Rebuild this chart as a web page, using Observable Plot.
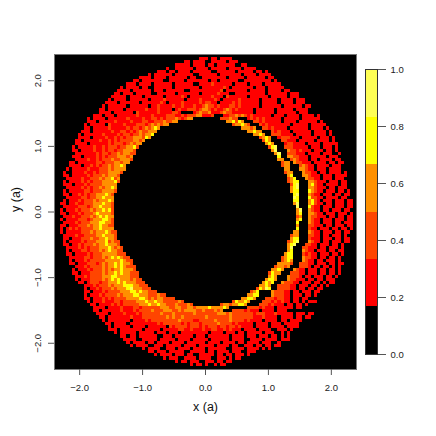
<!DOCTYPE html>
<html><head><meta charset="utf-8">
<script src="https://cdn.jsdelivr.net/npm/d3@7"></script>
<script src="https://cdn.jsdelivr.net/npm/@observablehq/plot@0.6"></script>
<style>html,body{margin:0;padding:0;background:#fff}#c{position:relative;width:436px;height:436px}#c svg{position:absolute;left:0;top:0;background:transparent}</style>
</head><body><div id="c"></div>
<script>
const levelColors = ["#000000","#FF0000","#FF4500","#FF9000","#FFFF00","#FFFF55"];
const levelBreaks = [0,0.1667,0.3333,0.5,0.6667,0.8333,1];
const xTicks = [-2,-1,0,1,2];
const yTicks = [-2,-1,0,1,2];
const barTicks = [0,0.2,0.4,0.6,0.8,1];
// ring outline read per grid row (grid columns, rows from the top)
const outerLeft = [0,47,43,40,37,34,31,28,26,24,22,21,20,19,18,17,16,15,15,13,11,11,10,10,9,8,8,7,7,6,6,6,6,6,5,5,4,3,3,3,3,3,3,3,3,3,3,2,2,2,2,2,2,2,2,2,2,2,3,3,3,3,4,4,4,5,5,6,6,6,6,7,8,9,10,10,10,10,11,12,13,13,14,15,16,17,18,18,20,22,23,24,25,29,31,33,36,40,45,0];
const outerRight = [0,58,60,63,66,70,71,72,73,75,76,77,80,81,82,83,84,84,85,87,88,88,89,90,91,91,92,92,93,93,93,94,94,94,95,95,95,96,96,96,96,97,97,97,97,97,98,98,98,98,98,98,98,98,98,98,98,97,97,97,96,96,96,96,95,95,95,94,94,94,94,93,93,92,92,91,90,89,88,87,86,86,85,85,83,82,80,79,78,77,77,75,74,71,67,64,61,58,56,0];
const holeFirstRow = 20;
const innerLeft = [46,41,38,35,34,33,32,30,29,28,27,27,26,26,25,24,24,23,22,22,22,21,21,21,20,20,20,20,20,20,20,20,20,20,20,20,21,21,21,22,22,23,23,24,25,26,26,27,27,28,28,29,30,31,32,34,37,40,43,46];
const innerRight = [55,57,59,62,64,66,68,69,70,71,72,73,74,74,75,75,76,76,77,77,77,78,78,78,79,79,79,79,80,80,80,80,80,80,80,80,79,78,78,77,77,77,77,76,75,75,74,73,72,71,71,70,69,68,67,65,64,62,59,55];
// colour classes per row: "left of the hole|right of the hole", or one run where there is no hole
const rows = [
"",
"011101101111",
"1101111001111101111",
"11111011110110111111001111",
"1001111110111101111101111011110111",
"11101101111011111100111111011111011011",
"1011111101111110011111101111111011110111101",
"1111011110111111011001111111101111101111110111011",
"1101111111001111101111111011011111100111111111011111",
"111011110111111011111100111121111110111101111011111011",
"10111101100111111011111111011111112101111111011101111101",
"1111011111101110111111001111111111201111111011111011110111",
"11011101111100111111011111110111112111001111111111011111101111",
"1111101111011111101111121011111112111021111110111111011111011101",
"101111011111101111211111101111211112101111121111110111110111101111",
"11110111111011111121011112111112122110111121211111101111101111011101",
"1011111101111110112111121121112112322121112212111111011111101111110111",
"110111110111111211121111012112221233212112321211111011111101111101111011",
"111101111110211111121111221000012322311123221111111011111101111110111",
"1110111011111121111211112221121222331112000112232321211111101110111101111011",
"10111101111112111121122121222321233|222322000121212111110111110111111011101111",
"111011111211112111221122232233|334243000221211111011110111111011111",
"1011111021111211122212323233|233432000212111111101111101111111011",
"1101111121111121221232343|3332300221211110111111011110111011",
"1110111111211221212322333|33433000212111011111101111011111",
"1011111121111212212232334|334300222111101111101111011110111",
"111101111211212122333243|23430012221110111110111011110111",
"11011111211212122223323|24300022111011111011110111011101",
"1111011111121222123233|3430001221111011110111110110111",
"1011111211212221223342|24500222111110111011101111011",
"110111121121221223332|350003221211101110110111110111",
"1011111112122122323322|35002221110111101110011111011",
"11101111212122233323|4003322111011111011101110111",
"01111211212223223332|33002321110110111101110111011",
"11011111122122233233|233032211101111011011101111011",
"1111011212122323343|23300023211011110111011101101",
"10111112111222323333|33000332110111011110110111011",
"10011112112122233332|233000322110110111101110110111",
"1101111121222323332|340003321110111011110110110",
"0111112112223233423|2340003221101110111001110101",
"1011112121222333342|23440003321110111011011110110",
"111011121222233333|2450003421101111011011101011",
"011111212122323343|3450003321110110111010110111",
"101111122122233332|3440004321101110110111011011",
"11011212122333432|4500032110111011011101110110",
"01111122122334333|5400042211011110110110111011",
"10111212223233343|4400034210111011101101101011",
"110112112223334332|35000342110110111011010111",
"011111222123343332|500042110111011101101011",
"101112122232334342|350032110110111011011010",
"110111212223433332|340033211011101110101101",
"011121122232343433|230032211101101101110101",
"101111222123334432|3400321101110111011010",
"011112122233344332|400032110111011011101011",
"110111222323343322|300022111011011101101101",
"101212122223343333|400021101110110110111011",
"1011111222323334322|3300032110111011011010",
"0111121122223343332|23300022110110111010111",
"110111222322334332|34400021110111011011011",
"1011112122233342322|234500032110110111011011",
"1101121222323343332|34500022110111011010111",
"01111212122233343232|3500022111011011101011",
"1011122122232343322|34000321101110110110101",
"11011112122233333222|34400021211011101101011",
"011111221222323434322|234400032211011011010",
"101112122222333334322|2343000321101101110101",
"110111222123233434332|33332002221101110110110",
"011121222232334343222|233230002221011011010111",
"101112122232323343332|3343000321101110110110101",
"1101112222323343433222|2433000222110111011011011",
"0111212222333443333222|343000322210110111011010",
"1011122223234343332322|34430003221110110110111",
"1101222122333434333222|343400322211011101101011",
"0111212223233344433222|33430022221101110110101",
"1011212223233345333222|2435400222211011011011",
"110111212222333443433222|23400003222110110111011",
"101112122223233344333222322|33440000322211011101101",
"110111212122223333443232332222|33443000222122110110110",
"10111211122122223334334332222232|2433430000222121211011010111",
"1101111212122222333433433222322232|23323344300002221211101101101",
"111101111211122122222233322332233233334333343000000222212111011111011",
"1101111112111212222322233322323333223222323000222212111011110111",
"1111011112111212222223222322222232222222333232222222122211121111101110110",
"1101111111211122222222323223222222232222222322222221112111101111011011",
"101111111011112122222222232222112222232222322221211110111101101111",
"1101111011111111121222222121222122222322221211111011110111011111",
"101111101111011111102122221222121222122122121111011110111101111",
"1110111111101111101111122112111211221121211101111011110011101",
"1011111011111011101110111111111011110111011011111011100101",
"11011011111100111011111101110111111101111011101110110101",
"1111001111101111101111011111011111101111001111011110111",
"101111011011110111101111110111101111011011110111001",
"10111100111011111011110111110111101100111011011011",
"1011110011101111011110111111001111011110101",
"110111011111001111101101111011100111",
"10111101110110011111011011011101",
"10111001111011110011101011",
"1011011100111011011",
"101101001011",
""
];
const cellSize = 0.048, xMin = -2.4, yMax = 2.4;
const cells = [];
rows.forEach((row, r) => {
  const put = (col, d) => {
    if (d > 0) cells.push({
      x1: xMin + col * cellSize, x2: xMin + (col + 1) * cellSize,
      y1: yMax - r * cellSize, y2: yMax - (r + 1) * cellSize, level: d
    });
  };
  if (row.includes("|")) {
    const [left, right] = row.split("|");
    const il = innerLeft[r - holeFirstRow], ir = innerRight[r - holeFirstRow];
    [...left].reverse().forEach((d, i) => { if (il - 1 - i >= outerLeft[r]) put(il - 1 - i, +d); });
    [...right].forEach((d, i) => { if (ir + i <= outerRight[r]) put(ir + i, +d); });
  } else {
    [...row].forEach((d, i) => { if (outerLeft[r] + i <= outerRight[r]) put(outerLeft[r] + i, +d); });
  }
});
const color = {type: "ordinal", domain: d3.range(levelColors.length), range: levelColors};
const font = "'Liberation Sans', Arial, sans-serif";
const main = Plot.plot({
  width: 436, height: 436, marginLeft: 54, marginRight: 80, marginTop: 54, marginBottom: 67,
  style: {fontFamily: font, background: "transparent", color: "#222"},
  x: {domain: [-2.4, 2.4]}, y: {domain: [-2.4, 2.4]}, color,
  marks: [
    Plot.frame({fill: "black"}),
    Plot.rect(cells, {x1: "x1", x2: "x2", y1: "y1", y2: "y2", fill: "level", shapeRendering: "crispEdges"}),
    Plot.frame({stroke: "#777"}),
    Plot.axisX({ticks: xTicks, tickFormat: d3.format(".1f"), tickSize: 6, tickPadding: 9, fontSize: 9.5, label: null, stroke: "#555"}),
    Plot.axisY({ticks: yTicks, tickFormat: d3.format(".1f"), tickSize: 6, tickPadding: 8, fontSize: 9.5, label: null, tickRotate: -90, stroke: "#555"}),
    Plot.text(["x (a)"], {frameAnchor: "bottom", dy: 41, fontSize: 12.5, fill: "#111"}),
    Plot.text(["y (a)"], {frameAnchor: "left", dx: -39, rotate: -90, fontSize: 12.5, fill: "#111"})
  ]
});
const bands = levelColors.map((c, i) => ({level: i, y1: levelBreaks[i], y2: levelBreaks[i + 1]}));
const bar = Plot.plot({
  width: 436, height: 436, marginLeft: 365, marginRight: 59, marginTop: 69, marginBottom: 82,
  style: {fontFamily: font, background: "transparent", color: "#222"},
  x: {domain: [0, 1], axis: null}, y: {domain: [0, 1], axis: null}, color,
  marks: [
    Plot.rect(bands, {x1: 0, x2: 1, y1: "y1", y2: "y2", fill: "level", shapeRendering: "crispEdges"}),
    Plot.frame({stroke: "#333"}),
    Plot.axisY({anchor: "right", ticks: barTicks, tickFormat: d3.format(".1f"), tickSize: 8, tickPadding: 5, fontSize: 9.5, label: null, stroke: "#555"})
  ]
});
document.getElementById("c").append(main, bar);
</script>
</body></html>
